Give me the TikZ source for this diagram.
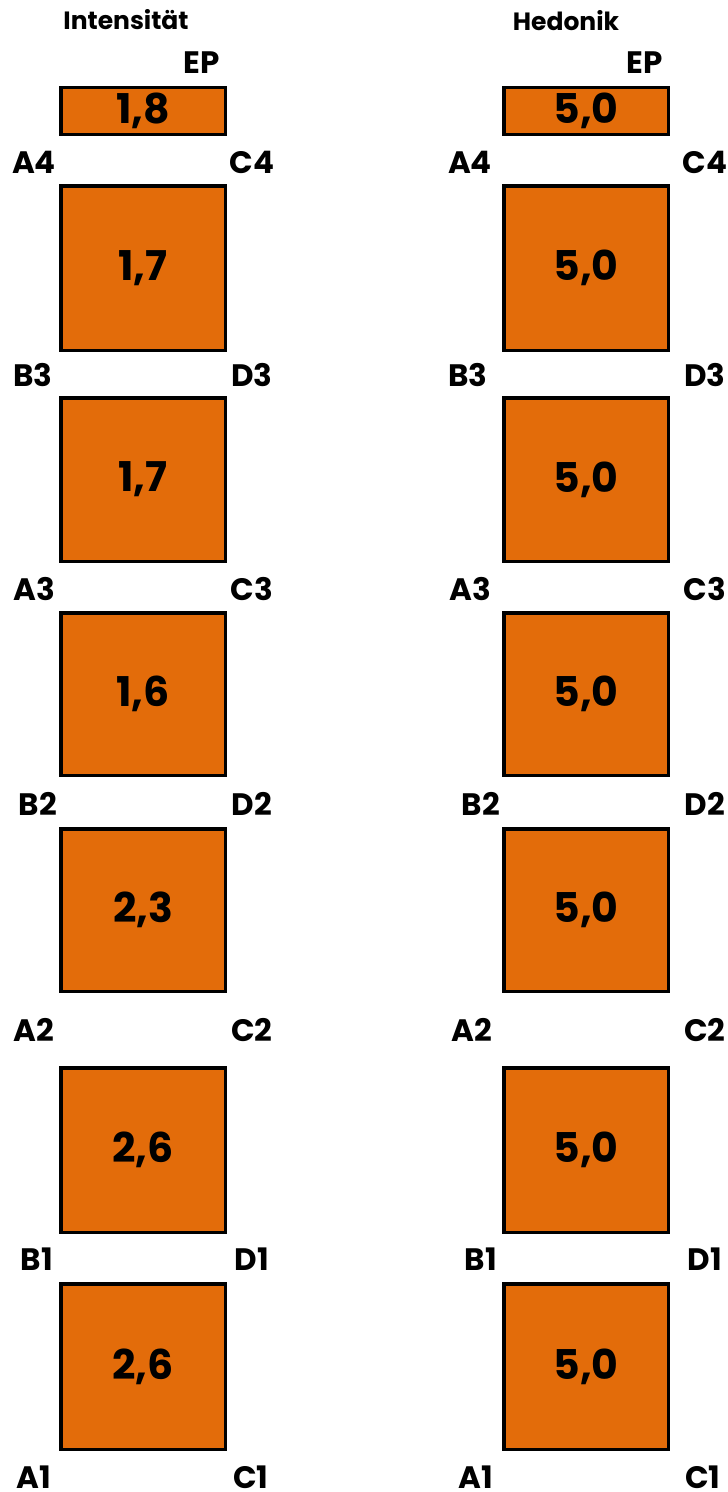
\documentclass[tikz,border=0pt]{standalone}
\usepackage{fontspec}
\setmainfont{Poppins}
\definecolor{boxorange}{HTML}{E36C0A}
\begin{document}
\begin{tikzpicture}[x=1pt,y=-1pt,
  valbox/.style={draw=black, line width=3.5pt, fill=boxorange, inner sep=0pt,
    minimum width=164.5pt, font=\fontsize{41}{41}\bfseries\selectfont},
  lbl/.style={anchor=base, inner sep=0pt, font=\fontsize{31}{31}\bfseries\selectfont},
  eplbl/.style={anchor=base east, inner sep=0pt, font=\fontsize{31}{31}\bfseries\selectfont},
  ttl/.style={anchor=base, inner sep=0pt, font=\fontsize{25}{25}\bfseries\selectfont}]
\useasboundingbox[fill=white] (0,0) rectangle (728,1492);

% titles
\node[ttl] (tL) at (126,29) {Intensität};
\node[ttl] (tR) at (566,30) {Hedonik};
\node[eplbl] (epL) at (220,73) {EP};
\node[eplbl] (epR) at (663,73) {EP};

% left column boxes
\node[valbox, minimum height=47pt]    (L0) at (143,111)   {1,8};
\node[valbox, minimum height=164.5pt] (L1) at (143,268)   {1,7};
\node[valbox, minimum height=163.5pt] (L2) at (143,479.5) {1,7};
\node[valbox, minimum height=162.5pt] (L3) at (143,694)   {1,6};
\node[valbox, minimum height=162.5pt] (L4) at (143,910)   {2,3};
\node[valbox, minimum height=164.5pt] (L5) at (143,1150)  {2,6};
\node[valbox, minimum height=165.5pt] (L6) at (143,1366.5){2,6};

% right column boxes
\node[valbox, minimum height=47pt]    (R0) at (586,111)   {5,0};
\node[valbox, minimum height=164.5pt] (R1) at (586,268)   {5,0};
\node[valbox, minimum height=163.5pt] (R2) at (586,479.5) {5,0};
\node[valbox, minimum height=162.5pt] (R3) at (586,694)   {5,0};
\node[valbox, minimum height=162.5pt] (R4) at (586,910)   {5,0};
\node[valbox, minimum height=164.5pt] (R5) at (586,1150)  {5,0};
\node[valbox, minimum height=165.5pt] (R6) at (586,1366.5){5,0};

% left labels
\node[lbl] (lA4) at (34,173)  {A4};  \node[lbl] (lC4) at (252,173)  {C4};
\node[lbl] (lB3) at (33,386)  {B3};  \node[lbl] (lD3) at (252,386)  {D3};
\node[lbl] (lA3) at (34,600)  {A3};  \node[lbl] (lC3) at (252,600)  {C3};
\node[lbl] (lB2) at (38,815)  {B2};  \node[lbl] (lD2) at (252,815)  {D2};
\node[lbl] (lA2) at (34,1041) {A2};  \node[lbl] (lC2) at (252,1041) {C2};
\node[lbl] (lB1) at (37,1270) {B1};  \node[lbl] (lD1) at (252,1270) {D1};
\node[lbl] (lA1) at (34,1488) {A1};  \node[lbl] (lC1) at (251,1488) {C1};

% right labels
\node[lbl] (rA4) at (470,173)  {A4};  \node[lbl] (rC4) at (705,173)  {C4};
\node[lbl] (rB3) at (468,386)  {B3};  \node[lbl] (rD3) at (705,386)  {D3};
\node[lbl] (rA3) at (470,600)  {A3};  \node[lbl] (rC3) at (705,600)  {C3};
\node[lbl] (rB2) at (481,815)  {B2};  \node[lbl] (rD2) at (705,815)  {D2};
\node[lbl] (rA2) at (472,1041) {A2};  \node[lbl] (rC2) at (705,1041) {C2};
\node[lbl] (rB1) at (481,1270) {B1};  \node[lbl] (rD1) at (705,1270) {D1};
\node[lbl] (rA1) at (476,1488) {A1};  \node[lbl] (rC1) at (703,1488) {C1};
\end{tikzpicture}
\end{document}
